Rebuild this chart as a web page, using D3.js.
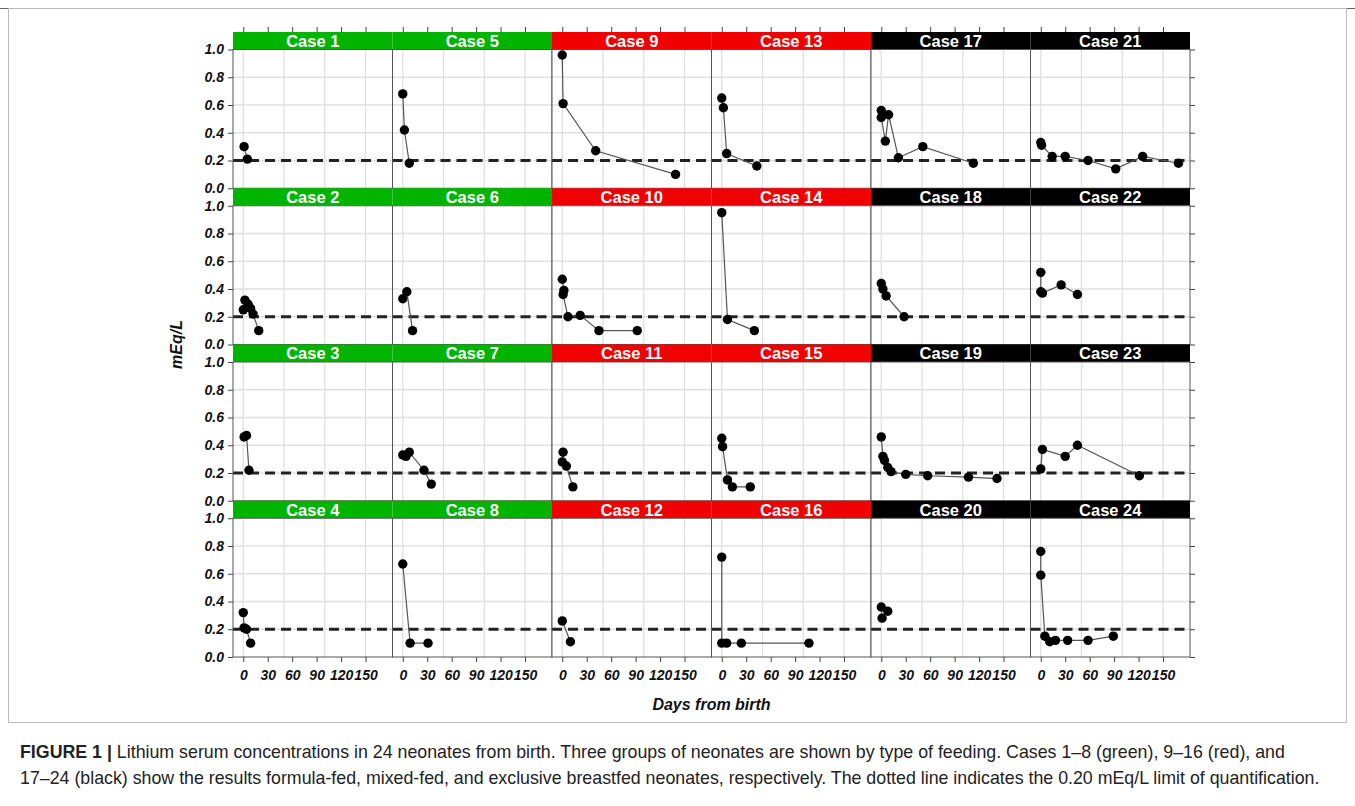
<!DOCTYPE html>
<html>
<head>
<meta charset="utf-8">
<script src="https://cdn.jsdelivr.net/npm/d3@7"></script>
<style>
  body { margin: 0; background: #fff; }
  svg text { font-family: "Liberation Sans", Arial, sans-serif; }
</style>
</head>
<body>
<script>
//Data
    const caseNames = d3.range(1, 25).map(i => "Case " + i);
    // feeding group for cases 1-8, 9-16, 17-24
    const groupNames = ["formula", "mixed", "breast"];
    const groupColors = ["#00b400", "#f00000", "#000000"];

    const caseDays = [
        [1, 5],                              // 1
        [0, 2, 6, 9, 12, 19],                // 2
        [1, 4, 7],                           // 3
        [0, 1, 4, 9],                        // 4
        [0, 2, 8],                           // 5
        [0, 5, 12],                          // 6
        [0, 4, 8, 26, 35],                   // 7
        [0, 9, 31],                          // 8
        [0, 1, 41, 139],                     // 9
        [0, 2, 1, 7, 22, 45, 92],            // 10
        [1, 0, 5, 13],                       // 11
        [0, 10],                             // 12
        [0, 2, 6, 43],                       // 13
        [0, 7, 40],                          // 14
        [0, 1, 7, 13, 35],                   // 15
        [0, 0, 6, 24, 107],                  // 16
        [0, 0, 5, 9, 21, 51, 113],           // 17
        [0, 2, 6, 28],                       // 18
        [0, 2, 4, 8, 12, 30, 57, 107, 142],  // 19
        [0, 1, 8],                           // 20
        [0, 1, 14, 30, 58, 92, 125, 169],    // 21
        [0, 0, 2, 25, 45],                   // 22
        [0, 2, 30, 45, 121],                 // 23
        [0, 0, 5, 11, 18, 33, 58, 89]        // 24
    ];

    const caseLevels = [
        [0.30, 0.21],
        [0.25, 0.32, 0.29, 0.26, 0.22, 0.10],
        [0.46, 0.47, 0.22],
        [0.32, 0.21, 0.20, 0.10],
        [0.68, 0.42, 0.18],
        [0.33, 0.38, 0.10],
        [0.33, 0.32, 0.35, 0.22, 0.12],
        [0.67, 0.10, 0.10],
        [0.96, 0.61, 0.27, 0.10],
        [0.47, 0.39, 0.36, 0.20, 0.21, 0.10, 0.10],
        [0.35, 0.28, 0.25, 0.10],
        [0.26, 0.11],
        [0.65, 0.58, 0.25, 0.16],
        [0.95, 0.18, 0.10],
        [0.45, 0.39, 0.15, 0.10, 0.10],
        [0.72, 0.10, 0.10, 0.10, 0.10],
        [0.56, 0.51, 0.34, 0.53, 0.22, 0.30, 0.18],
        [0.44, 0.40, 0.35, 0.20],
        [0.46, 0.32, 0.29, 0.24, 0.21, 0.19, 0.18, 0.17, 0.16],
        [0.36, 0.28, 0.33],
        [0.33, 0.31, 0.23, 0.23, 0.20, 0.14, 0.23, 0.18],
        [0.52, 0.38, 0.37, 0.43, 0.36],
        [0.23, 0.37, 0.32, 0.40, 0.18],
        [0.76, 0.59, 0.15, 0.11, 0.12, 0.12, 0.12, 0.15]
    ];

    const xTicks = [0, 30, 60, 90, 120, 150];
    const yTicks = [0, 0.2, 0.4, 0.6, 0.8, 1.0];
    const xGrid = [0, 50, 100, 150];
    const yGrid = [0.2, 0.4, 0.6, 0.8];
    const limitOfQuantification = 0.2;

    const xLabel = "Days from birth";
    const yLabel = "mEq/L";
    const captionLines = [
        ["FIGURE 1 | ", "Lithium serum concentrations in 24 neonates from birth. Three groups of neonates are shown by type of feeding. Cases 1–8 (green), 9–16 (red), and"],
        ["", "17–24 (black) show the results formula-fed, mixed-fed, and exclusive breastfed neonates, respectively. The dotted line indicates the 0.20 mEq/L limit of quantification."]
    ];


//Set up dimensions
    const width = 1355;
    const height = 806;
    const left0 = 233;
    const top0 = 32;
    const panelW = 159.5;
    const stripH = 17.5;
    const panelH = 138.75;
    const rowH = stripH + panelH;
    const nCols = 6;
    const nRows = 4;


//Set up scales
    const xScale = d3.scaleLinear()
                    .domain([-12.6, 183.1])
                    .range([0, panelW]);

    const yScale = d3.scaleLinear()
                    .domain([0, 1])
                    .range([panelH, 0]);

    const fmt = d3.format(".1f");


//Make the SVG
    const svg = d3.select("body")
                .append("svg")
                .attr("width", width)
                .attr("height", height);

    // figure frame
    svg.append("line")
        .attr("x1", 0).attr("x2", width)
        .attr("y1", 8.5).attr("y2", 8.5)
        .attr("stroke", "#666").attr("stroke-width", 1.2);

    svg.append("rect")
        .attr("x", 8.5).attr("y", 8.5)
        .attr("width", width - 17).attr("height", 714)
        .attr("fill", "none")
        .attr("stroke", "#bbb");


//Panels
    const panels = svg.selectAll("g.panel")
        .data(caseNames.map((name, i) => ({
            name: name,
            group: Math.floor(i / 8),
            col: Math.floor(i / 4),
            row: i % 4,
            pts: caseDays[i].map((d, j) => ({day: d, level: caseLevels[i][j]}))
        })))
        .enter()
        .append("g")
        .attr("class", "panel")
        .attr("transform", d => "translate(" + (left0 + d.col * panelW) + "," + (top0 + d.row * rowH) + ")");

    // strips
    panels.append("rect")
        .attr("width", panelW)
        .attr("height", stripH)
        .attr("fill", d => groupColors[d.group]);

    panels.append("text")
        .attr("x", panelW / 2)
        .attr("y", stripH / 2 + 6)
        .attr("text-anchor", "middle")
        .attr("fill", "#fff")
        .attr("font-weight", "bold")
        .attr("font-size", 16.5)
        .text(d => d.name);

    const body = panels.append("g")
        .attr("transform", "translate(0," + stripH + ")");

    body.append("rect")
        .attr("width", panelW)
        .attr("height", panelH)
        .attr("fill", "#fff");

    // grid
    body.selectAll("line.vg")
        .data(xGrid)
        .enter()
        .append("line")
        .attr("x1", d => xScale(d)).attr("x2", d => xScale(d))
        .attr("y1", 0).attr("y2", panelH)
        .attr("stroke", "#e0e0e0").attr("stroke-width", 1.3);

    body.selectAll("line.hg")
        .data(yGrid)
        .enter()
        .append("line")
        .attr("x1", 0).attr("x2", panelW)
        .attr("y1", d => yScale(d)).attr("y2", d => yScale(d))
        .attr("stroke", "#e0e0e0").attr("stroke-width", 1.3);

    // limit of quantification
    body.append("line")
        .attr("x1", 0).attr("x2", panelW)
        .attr("y1", yScale(limitOfQuantification))
        .attr("y2", yScale(limitOfQuantification))
        .attr("stroke", "#222")
        .attr("stroke-width", 3)
        .attr("stroke-dasharray", "10,6");

    // series
    const line = d3.line()
                   .x(d => xScale(d.day))
                   .y(d => yScale(d.level));

    body.append("path")
        .attr("d", d => line(d.pts))
        .attr("fill", "none")
        .attr("stroke", "#555")
        .attr("stroke-width", 1.2);

    body.selectAll("circle")
        .data(d => d.pts)
        .enter()
        .append("circle")
        .attr("cx", d => xScale(d.day))
        .attr("cy", d => yScale(d.level))
        .attr("r", 4.7)
        .attr("fill", "#000");

    // panel borders
    body.append("rect")
        .attr("width", panelW)
        .attr("height", panelH)
        .attr("fill", "none")
        .attr("stroke", "#555")
        .attr("stroke-width", 1);


//Axes
    for (let r = 0; r < nRows; r++) {
        const y0 = top0 + r * rowH + stripH;

        const leftAxis = d3.axisLeft(yScale)
                           .tickValues(yTicks)
                           .tickFormat(fmt)
                           .tickSize(5)
                           .tickPadding(4);

        const ga = svg.append("g")
            .attr("transform", "translate(" + left0 + "," + y0 + ")")
            .call(leftAxis);
        ga.select(".domain").remove();

        const rightAxis = d3.axisRight(yScale)
                            .tickValues(yTicks)
                            .tickFormat("")
                            .tickSize(5);

        const gr = svg.append("g")
            .attr("transform", "translate(" + (left0 + nCols * panelW) + "," + y0 + ")")
            .call(rightAxis);
        gr.select(".domain").remove();
    }

    for (let c = 0; c < nCols; c++) {
        const x0 = left0 + c * panelW;

        const bottomAxis = d3.axisBottom(xScale)
                             .tickValues(xTicks)
                             .tickSize(5)
                             .tickPadding(8);

        const gb = svg.append("g")
            .attr("transform", "translate(" + x0 + "," + (top0 + nRows * rowH) + ")")
            .call(bottomAxis);
        gb.select(".domain").remove();

        const topAxis = d3.axisTop(xScale)
                          .tickValues(xTicks)
                          .tickFormat("")
                          .tickSize(5);

        const gt = svg.append("g")
            .attr("transform", "translate(" + x0 + "," + top0 + ")")
            .call(topAxis);
        gt.select(".domain").remove();
    }

    svg.selectAll(".tick line").attr("stroke", "#444");
    svg.selectAll(".tick text")
        .attr("font-family", "Liberation Sans, Arial, sans-serif")
        .attr("font-size", 14)
        .attr("font-weight", "bold")
        .attr("font-style", "italic")
        .attr("fill", "#111");


//Axis titles
    svg.append("text")
        .attr("x", left0 + nCols * panelW / 2)
        .attr("y", 710)
        .attr("text-anchor", "middle")
        .attr("font-size", 16)
        .attr("font-weight", "bold")
        .attr("font-style", "italic")
        .attr("fill", "#111")
        .text(xLabel);

    svg.append("text")
        .attr("transform", "translate(182," + (top0 + nRows * rowH / 2) + ") rotate(-90)")
        .attr("text-anchor", "middle")
        .attr("font-size", 16)
        .attr("font-weight", "bold")
        .attr("font-style", "italic")
        .attr("fill", "#111")
        .text(yLabel);


//Caption
    const cap = svg.append("text")
        .attr("font-size", 17.8)
        .attr("fill", "#222");

    captionLines.forEach((ln, i) => {
        const t = cap.append("tspan")
            .attr("x", 20)
            .attr("y", 758 + i * 26);
        if (ln[0]) t.append("tspan").attr("font-weight", "bold").text(ln[0]);
        t.append("tspan").text(ln[1]);
    });
</script>
</body>
</html>
